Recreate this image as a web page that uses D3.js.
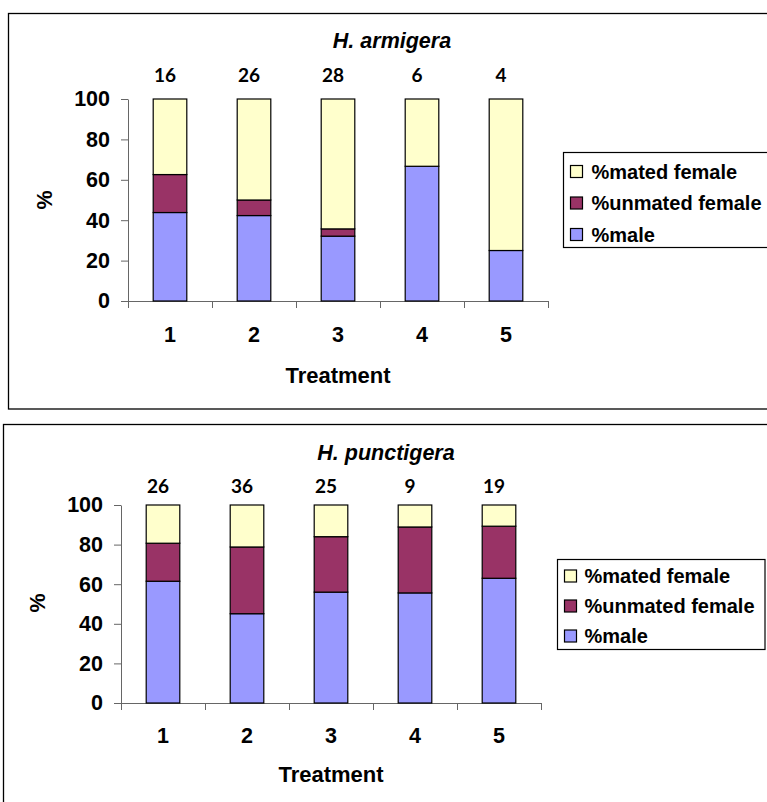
<!DOCTYPE html>
<html>
<head>
<meta charset="utf-8">
<script src="https://cdn.jsdelivr.net/npm/d3@7"></script>
<style>
  body { margin: 0; background: #fff; }
  text { font-family: "Liberation Sans", Arial, sans-serif; font-weight: bold; fill: #000; }
</style>
</head>
<body>
<svg id="chart" width="767" height="802"></svg>
<script>
const treatments = ["1", "2", "3", "4", "5"];
const seriesKeys = ["male", "unmated", "mated"];
const seriesLabels = { male: "%male", unmated: "%unmated female", mated: "%mated female" };
const seriesColors = { male: "#9999ff", unmated: "#993366", mated: "#ffffcc" };
const yTicks = [0, 20, 40, 60, 80, 100];

// H. armigera
const armigeraMale = [43.8, 42.3, 32.1, 66.7, 25];
const armigeraUnmated = [18.8, 7.7, 3.6, 0, 0];
const armigeraMated = [37.4, 50, 64.3, 33.3, 75];
const armigeraN = [16, 26, 28, 6, 4];

// H. punctigera
const punctigeraMale = [61.5, 45.1, 56, 55.6, 63];
const punctigeraUnmated = [19.2, 33.7, 28, 33.3, 26.3];
const punctigeraMated = [19.3, 21.2, 16, 11.1, 10.7];
const punctigeraN = [26, 36, 25, 9, 19];

const svg = d3.select("#chart");

function drawChart(cfg) {
  const rows = treatments.map((t, i) => ({
    t, male: cfg.male[i], unmated: cfg.unmated[i], mated: cfg.mated[i], n: cfg.n[i]
  }));

  const g = svg.append("g");

  // frame
  g.append("rect")
    .attr("x", cfg.box[0]).attr("y", cfg.box[1])
    .attr("width", cfg.box[2]).attr("height", cfg.box[3])
    .attr("fill", "none").attr("stroke", "#000").attr("stroke-width", 1.3);

  let x = d3.scaleBand()
    .domain(treatments)
    .range([cfg.left, cfg.right])
    .paddingInner(0.6)
    .paddingOuter(0.3);

  let xEdge = d3.scaleLinear().domain([0, treatments.length]).range([cfg.left, cfg.right]);

  let y = d3.scaleLinear().domain([0, 100]).range([cfg.bottom, cfg.top]);

  // y axis
  let yAxis = g.append("g")
    .attr("transform", "translate(" + cfg.left + ",0)")
    .call(d3.axisLeft(y).tickValues(yTicks).tickSize(7).tickPadding(11).tickSizeOuter(0));
  yAxis.selectAll("text").style("font-size", "21.5px");

  // x axis (ticks on category edges)
  let xAxis = g.append("g")
    .attr("transform", "translate(0," + cfg.bottom + ")")
    .call(d3.axisBottom(xEdge).tickValues(d3.range(treatments.length + 1)).tickFormat("").tickSize(7).tickSizeOuter(0));

  [yAxis, xAxis].forEach(a => {
    a.select(".domain").attr("stroke", "#666");
    a.selectAll(".tick line").attr("stroke", "#666");
  });

  // stacked bars
  let stacked = d3.stack().keys(seriesKeys)(rows);
  g.selectAll(".layer")
    .data(stacked)
    .enter()
    .append("g")
      .attr("fill", d => seriesColors[d.key])
    .selectAll("rect")
    .data(d => d.filter(s => s[1] - s[0] > 0))
    .enter()
    .append("rect")
      .attr("x", d => x(d.data.t))
      .attr("y", d => y(d[1]))
      .attr("width", x.bandwidth())
      .attr("height", d => y(d[0]) - y(d[1]))
      .attr("stroke", "#000")
      .attr("stroke-width", 1.2);

  // category labels
  g.selectAll(".cat")
    .data(rows)
    .enter()
    .append("text")
      .attr("x", d => x(d.t) + x.bandwidth() / 2)
      .attr("y", cfg.catY)
      .attr("text-anchor", "middle")
      .style("font-size", "21.5px")
      .text(d => d.t);

  // n counts above bars
  g.selectAll(".count")
    .data(rows)
    .enter()
    .append("text")
      .attr("x", d => x(d.t) + x.bandwidth() / 2 - 5)
      .attr("y", cfg.countY)
      .attr("text-anchor", "middle")
      .style("font-family", "Lato, 'Open Sans', sans-serif")
      .style("font-size", "19px")
      .text(d => d.n);

  // title
  g.append("text")
    .attr("x", cfg.titleX)
    .attr("y", cfg.titleY)
    .attr("text-anchor", "middle")
    .style("font-size", "21.5px")
    .style("font-style", "italic")
    .text(cfg.title);

  // axis titles
  g.append("text")
    .attr("x", (cfg.left + cfg.right) / 2)
    .attr("y", cfg.xTitleY)
    .attr("text-anchor", "middle")
    .style("font-size", "22px")
    .text("Treatment");

  g.append("text")
    .attr("transform", "translate(" + cfg.yTitleX + "," + cfg.yTitleY + ") rotate(-90)")
    .attr("text-anchor", "middle")
    .attr("dy", "0.35em")
    .style("font-size", "21.5px")
    .text("%");

  // legend
  let lg = g.append("g").attr("transform", "translate(" + cfg.legend[0] + "," + cfg.legend[1] + ")");
  lg.append("rect")
    .attr("width", cfg.legend[2]).attr("height", cfg.legend[3])
    .attr("fill", "#fff").attr("stroke", "#000").attr("stroke-width", 1.2);
  let items = lg.selectAll(".item")
    .data(seriesKeys.slice().reverse())
    .enter()
    .append("g")
      .attr("transform", (d, i) => "translate(0," + (cfg.legendRow0 + i * cfg.legendStep) + ")");
  items.append("rect")
    .attr("x", cfg.legendSwatch).attr("y", -6)
    .attr("width", 12).attr("height", 12)
    .attr("fill", d => seriesColors[d])
    .attr("stroke", "#000").attr("stroke-width", 1.2);
  items.append("text")
    .attr("x", cfg.legendText)
    .attr("dy", "0.36em")
    .style("font-size", "20px")
    .text(d => seriesLabels[d]);
}

drawChart({
  title: "H. armigera",
  male: armigeraMale, unmated: armigeraUnmated, mated: armigeraMated, n: armigeraN,
  box: [8.5, 13.5, 768, 395.5],
  left: 128, right: 548, top: 99, bottom: 301,
  titleX: 392, titleY: 48, countY: 82, catY: 342, xTitleY: 383,
  yTitleX: 44, yTitleY: 200,
  legend: [563.5, 152.5, 220, 95], legendRow0: 19, legendStep: 31.5, legendSwatch: 7, legendText: 28
});

drawChart({
  title: "H. punctigera",
  male: punctigeraMale, unmated: punctigeraUnmated, mated: punctigeraMated, n: punctigeraN,
  box: [3.5, 424.5, 780, 400],
  left: 121, right: 541, top: 505, bottom: 703,
  titleX: 386, titleY: 460, countY: 493, catY: 743, xTitleY: 782,
  yTitleX: 37, yTitleY: 603,
  legend: [557.5, 559.5, 207.5, 90], legendRow0: 16.5, legendStep: 30, legendSwatch: 7, legendText: 27
});
</script>
</body>
</html>
